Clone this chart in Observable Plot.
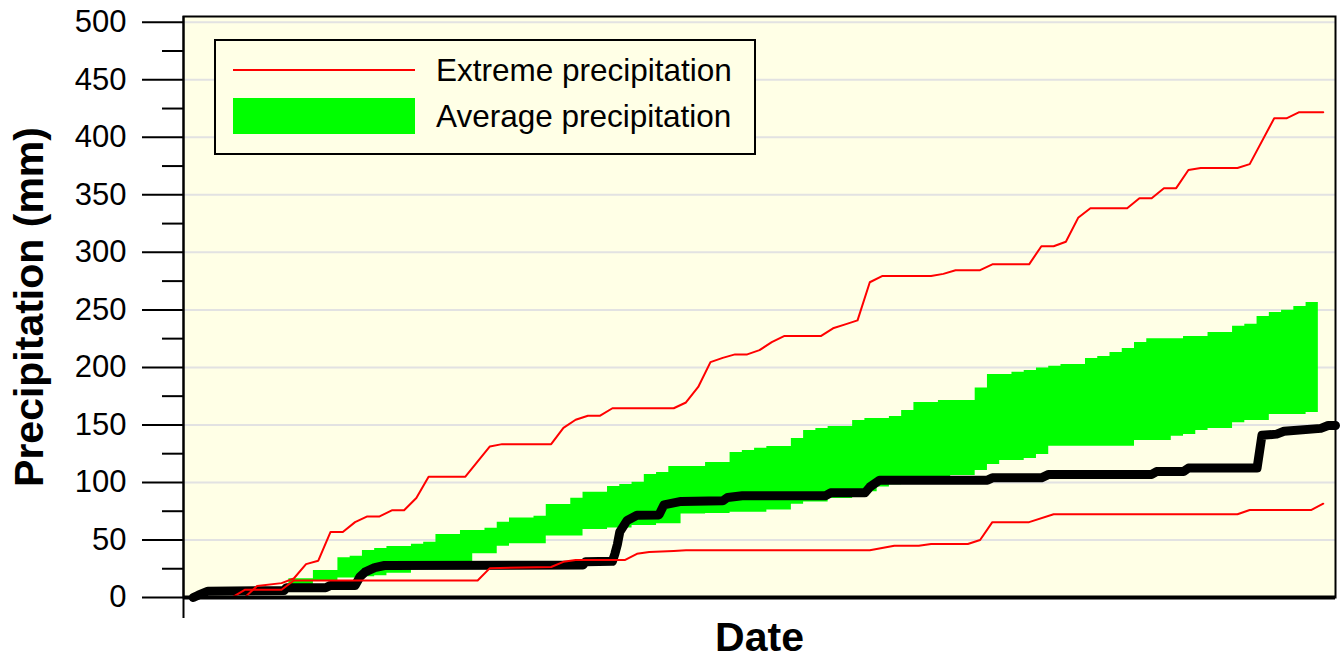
<!DOCTYPE html>
<html>
<head>
<meta charset="utf-8">
<script src="https://cdn.jsdelivr.net/npm/d3@7"></script>
<script src="https://cdn.jsdelivr.net/npm/@observablehq/plot@0.6"></script>
<style>
  body { margin: 0; background: #ffffff; font-family: "Liberation Sans", Arial, sans-serif; }
  #wrap { position: relative; width: 1340px; height: 658px; overflow: hidden; }
  #wrap svg { position: absolute; left: 0; top: 0; }
  .lg-box { position: absolute; left: 214px; top: 39px; width: 542px; height: 116px; box-sizing: border-box; border: 2px solid #000; background: #FFFFE6; }
  .lg-line { position: absolute; left: 233px; top: 69px; width: 182px; height: 2px; background: #ff0000; }
  .lg-fill { position: absolute; left: 233px; top: 98px; width: 182px; height: 36px; background: #00ff00; }
  .lg-text { position: absolute; left: 436px; font-size: 31.5px; line-height: 36px; color: #000; white-space: nowrap; }
</style>
</head>
<body>
<div id="wrap"></div>
<script>
// ---- Data (x = day number of the period, y = cumulative precipitation, mm) ----
const upperDay = [1,21,26,36,41,46,51,56,61,66,71,76,81,86,91,96,111,121,126,146,151,156,161,166,171,196,201,206,211,216,221,226,231,236,241,256,261,266,271,276,281,301,306,311,321,326,341,346,351,356,361,366,381,386,391,396,401,406,411,426,431,441,446,451,461];
const upperVal = [0,0,10,12.5,16.5,29,32,57,57,65.5,70.5,70.5,75.8,75.8,86.5,105,105,131.3,133.3,133.3,147.5,154.5,158,158,164.5,164.5,169.5,183,204.6,208.3,211.3,211.3,215,222,227.2,227.2,234,237.4,240.9,274,279.4,279.4,281.3,284.5,284.5,289.6,289.6,305.3,305.3,309.2,330,338.4,338.4,347.1,347.1,355.8,355.8,371.6,373.3,373.3,376.7,416.5,416.5,421.7,421.7];

const lowerDay = [1,16,21,36,41,116,121,146,151,156,176,181,186,196,201,276,286,296,301,316,321,326,341,351,426,431,456,461];
const lowerVal = [0,0.3,6.7,6.7,14.8,14.8,25.5,26.5,31,32.5,32.5,38,39.5,40.5,41,41,45,45,46.5,46.5,50,65.5,65.5,72.3,72.3,76,76,81.5];

const greenDay = [39,44,49,54,59,64,69,74,79,84,89,94,99,104,109,114,119,124,129,134,139,144,149,154,159,164,169,174,179,184,189,194,199,204,209,214,219,224,229,234,239,244,249,254,259,264,269,274,279,284,289,294,299,304,309,314,319,324,329,334,339,344,349,354,359,364,369,374,379,384,389,394,399,404,409,414,419,424,429,434,439,444,449,454];
const greenEnd = 459;
const greenHi = [16.2,16.2,23.5,23.5,34.5,35.8,40.9,42.6,44.4,44.4,
  46.3,48,54.8,54.8,58.3,58.3,60.3,65.5,69,69,
  70.7,80.9,80.9,86.2,91.4,91.4,96.5,98.3,100.2,107,
  108.7,113.9,113.9,113.9,117.4,117.4,126.1,127.8,129.7,131.3,
  131.3,138.2,145.2,147,148.7,148.7,153.9,155.6,155.6,157.4,
  162.6,169.6,169.6,171.3,171.3,171.3,182,193.9,193.9,195.7,
  197.4,199.4,200.9,202.6,202.6,207.8,209.5,213,216.5,221.7,
  225,225,225,226.9,226.9,230.4,230.4,235.7,237.4,244.3,
  247.8,249.6,253,256.5];
const greenLo = [10,10,14,14,17,17,18,19,21,21,
  26,26,30,30,30,38,38,44.6,46.7,46.7,
  46.7,53.5,53.5,53.5,59,59,60.5,60.5,62.5,62.5,
  64,64,72.5,72.5,73,73,74,74,74,76,
  76,81,83,83,86,86,88,92,96,98,
  100,101,102,104,106,106,110.4,115.7,119.1,119.1,
  120.9,124.3,131.5,131.5,131.5,131.5,131.5,131.5,131.5,136.5,
  136.5,136.5,140.2,141.7,145.2,147,147,152,153.9,153.9,
  159.1,159.1,159.1,160.9];

const obsDay = [0,2,6,37,38,54,56,66,68,70,74,78,159,160,171,172,173,174,177,181,190,192,199,216,218,224,258,260,274,276,280,324,326,346,349,391,393,404,406,434,436,442,445,460,463,466];
const obsVal = [0,2,5.5,6,8.5,8.5,10.5,10.5,18,22,26,27.8,28.3,31,31.5,38,46,57,67,71.5,71.8,80.5,83.5,84,87,88.5,88.5,91,91,96,102,102,104,104,107,107,109.5,109.5,112.5,112.5,141,142,144.5,147,149.5,149.5];

const yTicks = [0,50,100,150,200,250,300,350,400,450,500];
const yMinorTicks = [25,75,125,175,225,275,325,375,425,475];
const gridTicks = [50,100,150,200,250,300,350,400,450,500];
const xDomain = [-4, 466];
const yDomain = [0, 505];

const yLabel = "Precipitation (mm)";
const xLabel = "Date";
const legendLabels = ["Extreme precipitation", "Average precipitation"];

// ---- Tables built from the arrays ----
const upper = upperDay.map((d, i) => ({day: d, v: upperVal[i]}));
const lower = lowerDay.map((d, i) => ({day: d, v: lowerVal[i]}));
const obs = obsDay.map((d, i) => ({day: d, v: obsVal[i]}));
const green = greenDay.map((d, i) => ({day: d, hi: greenHi[i], lo: greenLo[i]}));
green.push({day: greenEnd, hi: greenHi[greenHi.length - 1], lo: greenLo[greenLo.length - 1]});

const plotBg = "#FFFFE6";

const chart = Plot.plot({
  width: 1340,
  height: 658,
  marginLeft: 183,
  marginRight: 5,
  marginTop: 16,
  marginBottom: 61,
  x: {domain: xDomain, axis: null, label: null},
  y: {domain: yDomain, axis: null, label: null},
  style: {background: "transparent", fontFamily: "'Liberation Sans', Arial, sans-serif", color: "#000", overflow: "visible"},
  marks: [
    Plot.frame({fill: plotBg}),
    Plot.ruleY(gridTicks, {stroke: "#e2e2e2", strokeWidth: 2}),
    Plot.areaY(green, {x: "day", y1: "lo", y2: "hi", curve: "step-after", fill: "#00ff00"}),
    Plot.line(obs, {x: "day", y: "v", stroke: "#000", strokeWidth: 9, strokeLinejoin: "round", strokeLinecap: "round"}),
    Plot.line(upper, {x: "day", y: "v", stroke: "#ff0000", strokeWidth: 2}),
    Plot.line(lower, {x: "day", y: "v", stroke: "#ff0000", strokeWidth: 2}),
    Plot.ruleY([0], {stroke: "#000", strokeWidth: 4}),
    Plot.frame({stroke: "#000", strokeWidth: 2}),
    Plot.ruleX([xDomain[0]], {stroke: "#000", strokeWidth: 2, insetBottom: -21}),
    Plot.axisY(yTicks, {tickSize: 41, tickPadding: 16, fontSize: 31, strokeWidth: 2, tickFormat: d => String(d), label: null}),
    Plot.axisY(yMinorTicks, {tickSize: 21, strokeWidth: 2, tickFormat: () => "", label: null}),
    Plot.text([yLabel], {text: d => d, frameAnchor: "left", textAnchor: "middle", rotate: -90, dx: -141, lineAnchor: "bottom", fontSize: 41, fontWeight: "bold", fill: "#000"}),
    Plot.text([xLabel], {text: d => d, frameAnchor: "bottom", textAnchor: "middle", dy: 53, lineAnchor: "bottom", fontSize: 41, fontWeight: "bold", fill: "#000"})
  ]
});

const wrap = document.getElementById("wrap");
wrap.appendChild(chart);

// ---- Legend (inside the plot area, top-left) ----
const box = document.createElement("div"); box.className = "lg-box"; wrap.appendChild(box);
const ln = document.createElement("div"); ln.className = "lg-line"; wrap.appendChild(ln);
const fl = document.createElement("div"); fl.className = "lg-fill"; wrap.appendChild(fl);
const t1 = document.createElement("div"); t1.className = "lg-text"; t1.style.top = "52px"; t1.textContent = legendLabels[0]; wrap.appendChild(t1);
const t2 = document.createElement("div"); t2.className = "lg-text"; t2.style.top = "98px"; t2.textContent = legendLabels[1]; wrap.appendChild(t2);
</script>
</body>
</html>
